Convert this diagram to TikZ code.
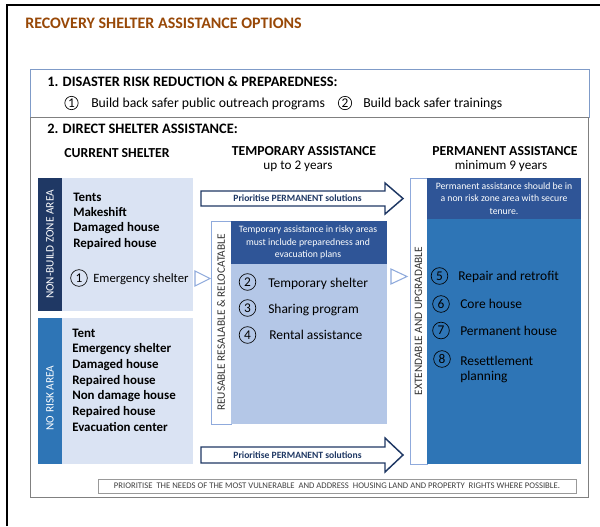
\documentclass[tikz,border=0pt]{standalone}
\usepackage{fontspec}
\setmainfont{Carlito}
\usetikzlibrary{positioning}

\definecolor{titlebrown}{HTML}{984807}
\definecolor{navystrip}{HTML}{1F3864}
\definecolor{lightbox}{HTML}{DAE3F3}
\definecolor{midblue}{HTML}{2E75B6}
\definecolor{darkhead}{HTML}{2F5597}
\definecolor{midbody}{HTML}{B4C7E7}
\definecolor{paleline}{HTML}{8FAADC}
\definecolor{sonebrd}{HTML}{7F9BC8}

\begin{document}
\begin{tikzpicture}[x=0.75pt,y=-0.75pt,
	titletext/.style={font=\bfseries\fontsize{12}{14}\selectfont, text=titlebrown, inner sep=0pt},
	hdr/.style={font=\bfseries\fontsize{10.8}{12}\selectfont, inner sep=0pt},
	colhdr/.style={font=\bfseries\fontsize{10.3}{12}\selectfont, inner sep=0pt, anchor=base},
	sub/.style={font=\fontsize{9.9}{12}\selectfont, inner sep=0pt, anchor=base},
	body/.style={font=\fontsize{10.3}{12}\selectfont, inner sep=0pt, anchor=base west},
	item/.style={font=\bfseries\fontsize{9.7}{11}\selectfont, inner sep=0pt, anchor=base west},
	emitem/.style={font=\fontsize{9.5}{11}\selectfont, inner sep=0pt, anchor=base west},
	bigitem/.style={font=\fontsize{10.1}{12}\selectfont, inner sep=0pt, anchor=base west},
	smallnum/.style={circle, draw, line width=0.5pt, inner sep=0pt, minimum size=10pt, font=\fontsize{10}{11}\selectfont},
	bignum/.style={circle, draw, line width=0.5pt, inner sep=0pt, minimum size=12.5pt, font=\fontsize{10}{12}\selectfont},
	striptext/.style={font=\fontsize{8.5}{10}\selectfont, inner sep=0pt, rotate=90},
	boxhead/.style={font=\fontsize{7.3}{9.3}\selectfont, text=white, align=center, inner sep=0pt},
	arrowtext/.style={font=\bfseries\fontsize{7.2}{8}\selectfont, text=navystrip, inner sep=0pt},
	bigarrow/.style={draw=navystrip, line width=1.1pt, fill=white, line join=miter},
	opentri/.style={draw=paleline, line width=0.8pt, fill=white},
	stripbox/.style={draw=paleline, line width=0.6pt, fill=white},
	notebox/.style={draw=gray!80, line width=0.6pt, fill=white}
]
	\useasboundingbox (0,0) rectangle (600,526);
%	outer frame
	\draw[line width=1.5pt] (7,526) -- (7,4.5) -- (600,4.5);

	\node (title) at (25,28) [anchor=base west, titletext] {RECOVERY SHELTER ASSISTANCE OPTIONS};

%	section 1
	\draw[sonebrd, line width=0.7pt] (30,69) rectangle (589,117);
	\node (drr) at (47,86) [anchor=base west, hdr] {1. DISASTER RISK REDUCTION \& PREPAREDNESS:};
	\node (c1) at (71.5,103) [smallnum] {1};
	\node (outreach) at (91,107) [body] {Build back safer public outreach programs};
	\node (c2) at (345,103) [smallnum] {2};
	\node (trainings) at (363,107) [body] {Build back safer trainings};

%	section 2
	\draw[gray, line width=0.7pt] (30,117) rectangle (588,497);
	\node (dsa) at (47,133) [anchor=base west, hdr] {2. DIRECT SHELTER ASSISTANCE:};
	\node (current) at (117,157) [colhdr] {CURRENT SHELTER};
	\node (temp) at (304,155) [colhdr] {TEMPORARY ASSISTANCE};
	\node (tempyrs) at (298,169) [sub] {up to 2 years};
	\node (perm) at (505,155) [colhdr] {PERMANENT ASSISTANCE};
	\node (permyrs) at (501,169) [sub] {minimum 9 years};

%	current shelter: non-build zone
	\fill[navystrip] (38,178) rectangle (62,311);
	\fill[lightbox] (62,178) rectangle (193,311);
	\node (nbz) at (50,244.5) [striptext, text=white] {NON-BUILD ZONE AREA};
	\node (nbz1) at (73,201) [item] {Tents};
	\node (nbz2) at (73,216.3) [item] {Makeshift};
	\node (nbz3) at (73,231.7) [item] {Damaged house};
	\node (nbz4) at (73,247) [item] {Repaired house};
	\node (n1) at (79,278) [bignum] {1};
	\node (emerg) at (93,282) [emitem] {Emergency shelter};

%	current shelter: no risk area
	\fill[midblue] (38,318) rectangle (62,464);
	\fill[lightbox] (62,318) rectangle (193,464);
	\node (nra) at (50,398) [striptext, text=white] {NO RISK AREA};
	\node (nra1) at (72,337) [item] {Tent};
	\node (nra2) at (72,352.7) [item] {Emergency shelter};
	\node (nra3) at (72,368.3) [item] {Damaged house};
	\node (nra4) at (72,384) [item] {Repaired house};
	\node (nra5) at (72,399.7) [item] {Non damage house};
	\node (nra6) at (72,415.3) [item] {Repaired house};
	\node (nra7) at (72,431) [item] {Evacuation center};

%	block arrows
	\draw[bigarrow] (201,191) -- (385,191) -- (385,183) -- (403,198.5) -- (385,214) -- (385,206) -- (201,206) -- cycle;
	\node (prio1) at (297.5,198.5) [arrowtext] {Prioritise PERMANENT solutions};
	\draw[bigarrow] (201,447) -- (385,447) -- (385,438) -- (403,455) -- (385,472) -- (385,463) -- (201,463) -- cycle;
	\node (prio2) at (297.5,455) [arrowtext] {Prioritise PERMANENT solutions};

%	open triangles
	\draw[opentri] (195,271) -- (210,278.5) -- (195,286) -- cycle;
	\draw[opentri] (391,269) -- (407,276.5) -- (391,284) -- cycle;

%	temporary assistance
	\draw[stripbox] (211,221) rectangle (231,424);
	\node (reuse) at (221,322.5) [striptext, text=black!80] {REUSABLE RESALABLE \& RELOCATABLE};
	\fill[darkhead] (231,221) rectangle (387,264);
	\fill[midbody] (231,264) rectangle (387,424);
	\node (temphead) at (308,242.5) [boxhead] {Temporary assistance in risky areas\\must include preparedness and\\evacuation plans};
	\node (n2) at (247.5,282) [bignum] {2};
	\node (tshelter) at (268,287) [bigitem] {Temporary shelter};
	\node (n3) at (247.5,308) [bignum] {3};
	\node (sharing) at (268,313) [bigitem] {Sharing program};
	\node (n4) at (247.5,335) [bignum] {4};
	\node (rental) at (269,339.5) [bigitem] {Rental assistance};

%	permanent assistance
	\draw[stripbox] (410,178) rectangle (427,464);
	\node (ext) at (418.5,321) [striptext, text=black!80] {EXTENDABLE AND UPGRADABLE};
	\fill[darkhead] (427,178) rectangle (581,219);
	\fill[midblue] (427,219) rectangle (581,464);
	\node (permhead) at (504,198.5) [boxhead] {Permanent assistance should be in\\a non risk zone area with secure\\tenure.};
	\node (n5) at (439.5,276) [bignum] {5};
	\node (repair) at (458,280) [bigitem] {Repair and retrofit};
	\node (n6) at (441,304) [bignum] {6};
	\node (core) at (460,308) [bigitem] {Core house};
	\node (n7) at (441,330.5) [bignum] {7};
	\node (permhouse) at (460,335) [bigitem] {Permanent house};
	\node (n8) at (442,359) [bignum] {8};
	\node (resettle) at (460,365) [bigitem] {Resettlement};
	\node (planning) at (460,380.5) [bigitem] {planning};

%	bottom note
	\draw[notebox] (98,479) rectangle (576,493);
	\node (note) at (337,486) [font=\fontsize{6.5}{7}\selectfont, text=black!75, inner sep=0pt] {PRIORITISE\ \ THE NEEDS OF THE MOST VULNERABLE\ \ AND ADDRESS\ \ HOUSING LAND AND PROPERTY\ \ RIGHTS WHERE POSSIBLE.};
\end{tikzpicture}
\end{document}
